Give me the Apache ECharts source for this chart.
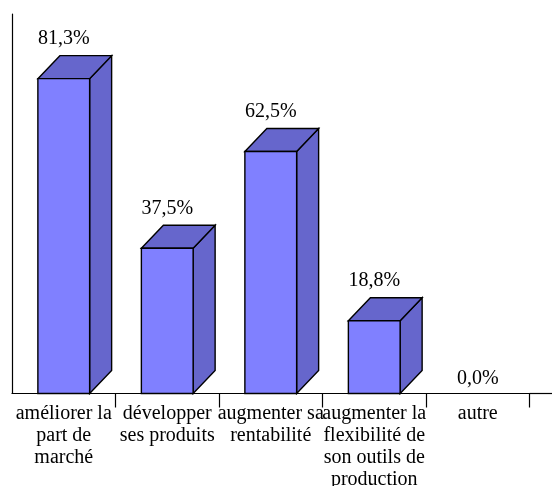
<!DOCTYPE html>
<html>
<head>
<meta charset="utf-8">
<script src="https://cdn.jsdelivr.net/npm/echarts@6/dist/echarts.min.js"></script>
<style>
  html, body { margin: 0; padding: 0; background: #ffffff; }
  #chart { width: 552px; height: 486px; }
</style>
</head>
<body>
<div id="chart"></div>
<script>
// Objectifs visés (part des réponses, en %)
const categories = [
  'améliorer la\npart de\nmarché',
  'développer\nses produits',
  'augmenter sa\nrentabilité',
  'augmenter la\nflexibilité de\nson outils de\nproduction',
  'autre'
];
const values = [81.3, 37.5, 62.5, 18.8, 0.0];
const valueLabels = ['81,3%', '37,5%', '62,5%', '18,8%', '0,0%'];

// Layout / style
const FONT = '"Liberation Serif", "Times New Roman", serif';
const GRID_LEFT = 12;
const GRID_TOP = 14;
const GRID_RIGHT = 22.5;
const GRID_BOTTOM = 92.5;
const DEPTH_X = 22;
const DEPTH_Y = 23;
const FRONT_COLOR = '#8080FF';
const SIDE_COLOR = '#6666CC';
const EDGE = { stroke: '#000000', lineWidth: 1.4 };

const chart = echarts.init(document.getElementById('chart'), null, { renderer: 'canvas' });

function renderBox(params, api) {
  const idx = api.value(0);
  const v = api.value(1);
  const top = api.coord([idx, v]);
  const base = api.coord([idx, 0]);
  const band = api.size([1, 0])[0];
  const w = band * 0.5;
  const x0 = top[0] - w / 2;
  const x1 = top[0] + w / 2;
  const yt = top[1];
  const yb = base[1];
  const children = [];
  if (v > 0) {
    children.push({
      type: 'polygon',
      shape: { points: [[x1, yt], [x1 + DEPTH_X, yt - DEPTH_Y], [x1 + DEPTH_X, yb - DEPTH_Y], [x1, yb]] },
      style: Object.assign({ fill: SIDE_COLOR }, EDGE)
    });
    children.push({
      type: 'polygon',
      shape: { points: [[x0, yt], [x0 + DEPTH_X, yt - DEPTH_Y], [x1 + DEPTH_X, yt - DEPTH_Y], [x1, yt]] },
      style: Object.assign({ fill: SIDE_COLOR }, EDGE)
    });
    children.push({
      type: 'rect',
      shape: { x: x0, y: yt, width: w, height: yb - yt },
      style: Object.assign({ fill: FRONT_COLOR }, EDGE)
    });
  }
  // value label above the box top (just above the floor when the box is empty)
  const labelY = v > 0 ? yt - DEPTH_Y - 17 : yb - 15;
  children.push({
    type: 'text',
    style: {
      x: top[0], y: labelY,
      text: valueLabels[idx],
      fill: '#000000',
      font: '20px ' + FONT,
      align: 'center',
      verticalAlign: 'middle'
    }
  });
  return { type: 'group', children: children };
}

const chartWidth = 552;
const chartHeight = 486;
const floorY = chartHeight - GRID_BOTTOM;

chart.setOption({
  animation: false,
  backgroundColor: '#ffffff',
  grid: {
    left: GRID_LEFT, top: GRID_TOP, right: GRID_RIGHT, bottom: GRID_BOTTOM,
    containLabel: false,
    outerBoundsMode: 'none'
  },
  xAxis: {
    type: 'category',
    data: categories,
    boundaryGap: true,
    axisLine: { show: true, lineStyle: { color: '#000000', width: 1.2 } },
    axisTick: {
      show: true,
      length: 14,
      interval: function (index) { return index !== 0; },
      lineStyle: { color: '#000000', width: 1.2 }
    },
    axisLabel: {
      interval: 0,
      margin: 9,
      color: '#000000',
      fontFamily: FONT,
      fontSize: 20,
      lineHeight: 22,
      align: 'center'
    },
    splitLine: { show: false }
  },
  yAxis: {
    type: 'value',
    min: 0,
    max: 98,
    axisLine: { show: true, lineStyle: { color: '#000000', width: 1.2 } },
    axisTick: { show: false },
    axisLabel: { show: false },
    splitLine: { show: false }
  },
  graphic: [{
    type: 'line',
    shape: { x1: chartWidth - GRID_RIGHT, y1: floorY, x2: chartWidth, y2: floorY },
    style: { stroke: '#000000', lineWidth: 1.2 }
  }],
  series: [{
    type: 'custom',
    renderItem: renderBox,
    data: values.map(function (v, i) { return [i, v]; }),
    encode: { x: 0, y: 1 },
    clip: false
  }]
});
</script>
</body>
</html>
